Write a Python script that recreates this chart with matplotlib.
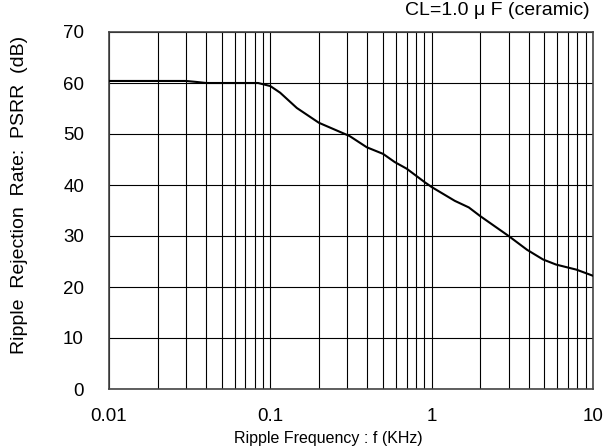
import matplotlib
matplotlib.use("Agg")
import matplotlib.pyplot as plt
import numpy as np

# PSRR curve (freq in kHz, PSRR in dB)
freq_khz = [0.01, 0.02, 0.03, 0.035, 0.04, 0.06, 0.084, 0.1, 0.115, 0.146,
            0.2, 0.31, 0.396, 0.5, 0.59, 0.7, 0.91, 1.0, 1.39, 1.7,
            2.0, 3.0, 3.9, 4.9, 5.9, 7.9, 10.0]
psrr_db = [60.4, 60.4, 60.4, 60.2, 60.0, 60.0, 60.0, 59.4, 58.1, 55.1,
           52.2, 49.6, 47.4, 46.1, 44.5, 43.2, 40.5, 39.6, 36.9, 35.6,
           33.9, 30.0, 27.3, 25.4, 24.4, 23.4, 22.2]

x_ticks = [0.01, 0.1, 1, 10]
x_tick_labels = ["0.01", "0.1", "1", "10"]
y_ticks = list(range(0, 80, 10))

plt.rcParams['font.family'] = ['Liberation Sans', 'DejaVu Sans']

fig = plt.figure(figsize=(6.12, 4.48), dpi=100)
ax = fig.add_axes([109 / 612, 1 - 389 / 448, 484 / 612, 357 / 448])

ax.plot(freq_khz, psrr_db, color='black', linewidth=1.5, zorder=3)

ax.set_xscale('log')
ax.set_xlim(0.01, 10)
ax.set_ylim(0, 70)
ax.set_xticks(x_ticks)
ax.set_xticklabels(x_tick_labels)
ax.set_yticks(y_ticks)
ax.xaxis.set_minor_locator(matplotlib.ticker.LogLocator(base=10, subs=np.arange(2, 10)))
ax.xaxis.set_minor_formatter(matplotlib.ticker.NullFormatter())

ax.grid(True, which='both', axis='x', color='black', linewidth=0.8)
ax.grid(True, which='major', axis='y', color='black', linewidth=0.8)
ax.tick_params(which='both', length=0, labelsize=13.5, colors='black')
ax.tick_params(axis='x', pad=14)
ax.tick_params(axis='y', pad=18)

for s in ax.spines.values():
    s.set_color('#444444')
    s.set_linewidth(1.2)

fig.text(328 / 612, 1 - 438 / 448, "Ripple Frequency : f (KHz)", ha='center',
         va='center', fontsize=11.5)
fig.text(20 / 612, 1 - 195 / 448, "Ripple  Rejection  Rate:  PSRR  (dB)",
         rotation=90, ha='center', va='center', fontsize=14)

fig.text(590 / 612, 1 - 2 / 448, "CL=1.0 μ F (ceramic)", ha='right',
         va='top', fontsize=14)

fig.savefig("out.png", dpi=100)
